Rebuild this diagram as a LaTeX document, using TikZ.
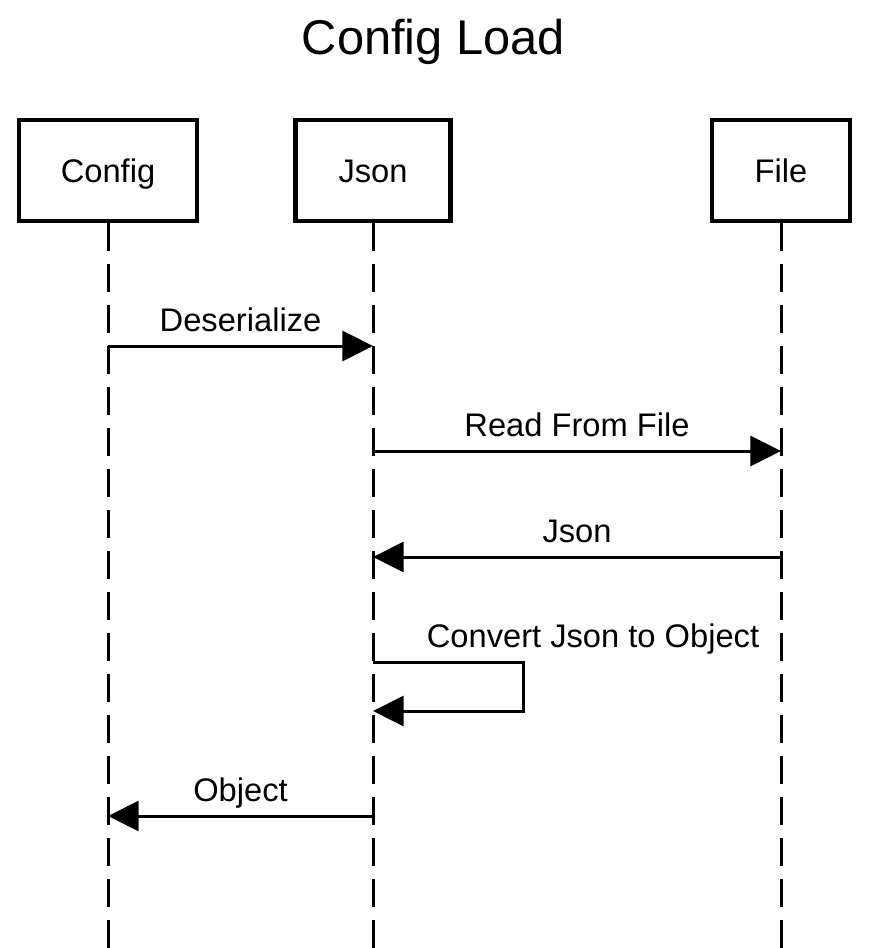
\documentclass[tikz,border=0pt]{standalone}
\usepackage{fontspec}
\setmainfont{Liberation Sans}
\usetikzlibrary{arrows.meta}

\begin{document}
\begin{tikzpicture}[x=0.75pt,y=-0.75pt,
    actor/.style={draw,line width=3.3pt,minimum height=75.75pt,inner sep=0pt,
      font=\fontsize{24.5}{28}\selectfont,text height=17.5pt,text depth=0pt},
    lifeline/.style={line width=2.25pt,dash pattern=on 21pt off 9.75pt},
    msg/.style={line width=2.25pt,-{Triangle[length=23pt,width=22.5pt]}},
    lbl/.style={anchor=base,yshift=11.25pt,font=\fontsize{24.5}{28}\selectfont}]
  \useasboundingbox (0,0) rectangle (868,948);

  \node[font=\fontsize{36.6}{44}\selectfont,anchor=base] (title) at (433.5,55) {Config Load};

  % actors
  \node[actor,minimum width=133.5pt] (config) at (108,170.5) {Config};
  \node[actor,minimum width=116.25pt] (json) at (373,170.5) {Json};
  \node[actor,minimum width=103.5pt] (file) at (781,170.5) {File};

  % lifelines
  \coordinate (config end) at (config |- 0,948);
  \coordinate (json end) at (json |- 0,948);
  \coordinate (file end) at (file |- 0,948);
  \draw[lifeline] (config) -- (config end);
  \draw[lifeline] (json) -- (json end);
  \draw[lifeline] (file) -- (file end);

  % messages
  \draw[msg] (config |- 0,346) -- node[lbl] (deser) {Deserialize} (json |- 0,346);
  \draw[msg] (json |- 0,451) -- node[lbl] (read) {Read From File} (file |- 0,451);
  \draw[msg] (file |- 0,557) -- node[lbl] (ret) {Json} (json |- 0,557);
  \draw[msg] (json |- 0,662) -| (523,711) -- (json |- 0,711);
  \node[lbl] (conv) at (593,662) {Convert Json to Object};
  \draw[msg] (json |- 0,816) -- node[lbl] (obj) {Object} (config |- 0,816);
\end{tikzpicture}
\end{document}
